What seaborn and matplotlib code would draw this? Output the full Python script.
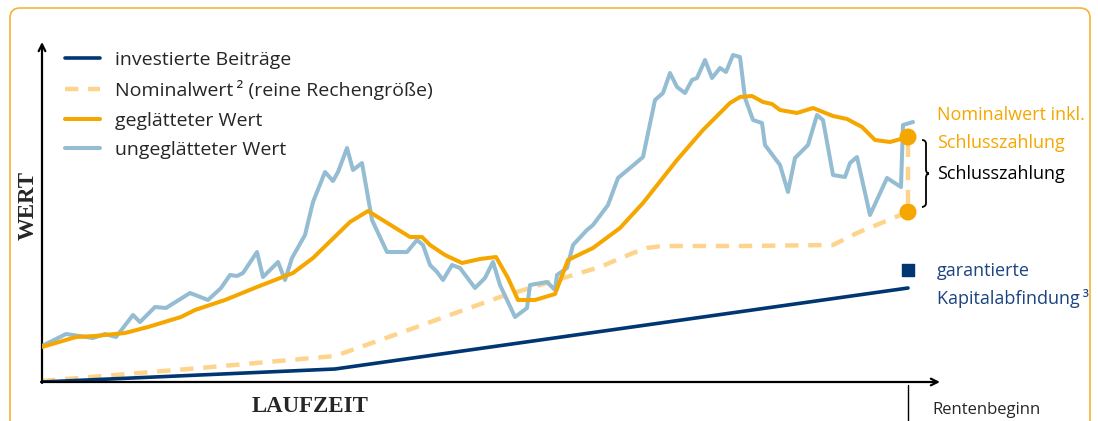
import numpy as np
import pandas as pd
import matplotlib
matplotlib.use("Agg")
import matplotlib.pyplot as plt
import seaborn as sns
from matplotlib.patches import FancyBboxPatch, PathPatch
from matplotlib.path import Path
from matplotlib.transforms import IdentityTransform

# -------------------------------------------------------------
#  Daten
#  x = Laufzeit (0 .. Rentenbeginn), y = Wert (willkuerliche Einheit)
# -------------------------------------------------------------

beitraege_x = [0, 293, 866]
beitraege_y = [0, 13, 94]

nominal_x = [0, 158, 293, 358, 458, 558, 591, 605, 620, 700, 791, 815, 866, 866]
nominal_y = [1, 14, 26, 49, 85, 115, 129, 134, 136, 136, 137, 149, 170, 245]

geglaettet_x = [0, 34, 53, 83, 106, 139, 153, 183, 215, 251, 271, 308, 326, 368,
                380, 388, 403, 420, 438, 454, 466, 476, 493, 513, 526, 551, 578,
                601, 635, 661, 688, 698, 710, 721, 730, 738, 755, 771, 791, 805,
                820, 833, 848, 866]
geglaettet_y = [35, 45, 46, 49, 55, 65, 72, 82, 95, 109, 124, 160, 171, 145,
                145, 137, 127, 119, 123, 125, 104, 82, 82, 88, 122, 134, 154,
                179, 222, 252, 279, 285, 286, 280, 278, 272, 269, 274, 266, 263,
                255, 242, 240, 245]

roh_x = [0, 24, 51, 63, 74, 91, 98, 113, 124, 148, 166, 179, 188, 195, 201, 215,
         221, 236, 243, 250, 263, 271, 283, 291, 296, 305, 311, 320, 330, 345,
         365, 375, 381, 388, 395, 401, 410, 418, 433, 443, 451, 458, 473, 485,
         488, 505, 513, 515, 525, 531, 545, 551, 566, 576, 588, 601, 613, 621,
         628, 635, 643, 650, 655, 663, 670, 678, 684, 691, 698, 703, 711, 720,
         723, 738, 746, 753, 766, 775, 781, 791, 803, 808, 815, 828, 845, 859,
         861, 871]
roh_y = [36, 48, 44, 48, 45, 67, 60, 75, 74, 89, 82, 94, 107, 106, 109, 130,
         105, 120, 102, 124, 147, 180, 210, 201, 210, 234, 212, 219, 162, 130,
         130, 142, 137, 117, 110, 102, 117, 114, 94, 104, 120, 97, 65, 74,
         97, 100, 92, 107, 114, 137, 152, 157, 177, 204, 214, 225, 282, 289,
         309, 295, 289, 302, 304, 322, 304, 314, 310, 327, 325, 284, 262, 259,
         237, 217, 190, 224, 237, 267, 262, 207, 205, 219, 225, 167, 204, 195,
         257, 260]

garantie_y = 112

LABELS = [
    "investierte Beiträge",
    "Nominalwert\u2009² (reine Rechengröße)",
    "geglätteter Wert",
    "ungeglätteter Wert",
]

NAVY       = "#003671"
HELLBLAU   = "#94bdd3"
ORANGE     = "#f5a700"
HELLORANGE = "#fed48c"
TEXTBLAU   = "#1c4480"

# -------------------------------------------------------------
#  Figur
# -------------------------------------------------------------

sns.set_style("white")
plt.rcParams["font.family"] = ["Open Sans", "DejaVu Sans"]

fig = plt.figure(figsize=(10.98, 4.21), dpi=100)
ax = fig.add_axes([42 / 1098, 39 / 421, 898 / 1098, 340 / 421])
ax.set_xlim(0, 898)
ax.set_ylim(0, 340)
ax.axis("off")

# orangener Rahmen (unten offen)
rahmen = FancyBboxPatch(
    (10, -30), 1080, 443,
    boxstyle="round,pad=0,rounding_size=10",
    transform=IdentityTransform(),
    facecolor="none", edgecolor="#f7b337", linewidth=1.2,
)
fig.add_artist(rahmen)

df_nom = pd.DataFrame({"x": nominal_x, "y": nominal_y})
df_bei = pd.DataFrame({"x": beitraege_x, "y": beitraege_y})
df_roh = pd.DataFrame({"x": roh_x, "y": roh_y})
df_gl  = pd.DataFrame({"x": geglaettet_x, "y": geglaettet_y})

sns.lineplot(data=df_nom, x="x", y="y", ax=ax, color=HELLORANGE, linewidth=3.2,
             linestyle=(0, (3.0, 2.2)), estimator=None, sort=False,
             label=LABELS[1], zorder=2)
sns.lineplot(data=df_bei, x="x", y="y", ax=ax, color=NAVY, linewidth=2.6,
             estimator=None, sort=False, label=LABELS[0], zorder=3)
sns.lineplot(data=df_roh, x="x", y="y", ax=ax, color=HELLBLAU, linewidth=2.9,
             estimator=None, sort=False, label=LABELS[3], zorder=4)
sns.lineplot(data=df_gl, x="x", y="y", ax=ax, color=ORANGE, linewidth=2.9,
             estimator=None, sort=False, label=LABELS[2], zorder=5)

# Endpunkte
x_end = geglaettet_x[-1]
sns.scatterplot(x=[x_end, x_end], y=[geglaettet_y[-1], nominal_y[-2]], ax=ax,
                color=ORANGE, s=150, edgecolor="none", zorder=6, legend=False)

# Legende
handles, labels = ax.get_legend_handles_labels()
order = [labels.index(l) for l in LABELS]
ax.legend(
    [handles[i] for i in order], [labels[i] for i in order],
    loc="upper left", bbox_to_anchor=(23, 331), bbox_transform=ax.transData,
    frameon=False, fontsize=14, handlelength=1.8, handletextpad=0.75,
    labelspacing=0.58, borderpad=0, borderaxespad=0,
)

# Achsenpfeile
pfeil = dict(arrowstyle="->", lw=1.6, color="black", mutation_scale=12,
             shrinkA=0, shrinkB=0)
ax.annotate("", xy=(898, 0), xytext=(-1, 0), arrowprops=pfeil, annotation_clip=False)
ax.annotate("", xy=(0, 340), xytext=(0, -1), arrowprops=pfeil, annotation_clip=False)

ax.text(268, -25, "LAUFZEIT", ha="center", va="center", fontsize=16.5,
        fontweight="bold", family="Liberation Serif")
ax.text(-14, 177, "WERT", ha="center", va="center", rotation=90, fontsize=16.5,
        fontweight="bold", family="Liberation Serif")

# Rentenbeginn
ax.plot([x_end, x_end], [-3, -45], color="black", lw=1.0, clip_on=False)
ax.text(x_end + 24, -28, "Rentenbeginn", ha="left", va="center", fontsize=12)

# Beschriftung rechts
ax.text(x_end + 29, 267, "Nominalwert inkl.", color=ORANGE, fontsize=13,
        ha="left", va="center")
ax.text(x_end + 29, 239, "Schlusszahlung", color=ORANGE, fontsize=13,
        ha="left", va="center")
ax.text(x_end + 29, 208, "Schlusszahlung", color="black", fontsize=13,
        ha="left", va="center")

# geschweifte Klammer
oben  = geglaettet_y[-1] - 3
unten = nominal_y[-2] + 5
mitte = (oben + unten) / 2
bx = x_end + 14
verts = [
    (bx, oben), (bx + 4, oben), (bx + 4, oben - 4),
    (bx + 4, mitte + 4),
    (bx + 4, mitte), (bx + 7, mitte), (bx + 7, mitte),
    (bx + 4, mitte), (bx + 4, mitte - 4), (bx + 4, mitte - 4),
    (bx + 4, unten + 4),
    (bx + 4, unten), (bx, unten), (bx, unten),
]
codes = [Path.MOVETO, Path.CURVE3, Path.CURVE3, Path.LINETO,
         Path.CURVE4, Path.CURVE4, Path.CURVE4,
         Path.CURVE4, Path.CURVE4, Path.CURVE4,
         Path.LINETO, Path.CURVE4, Path.CURVE4, Path.CURVE4]
ax.add_patch(PathPatch(Path(verts, codes), facecolor="none", edgecolor="black",
                       lw=1.3, clip_on=False))

# garantierte Kapitalabfindung
ax.scatter([x_end], [garantie_y], marker="s", s=70, color=NAVY, zorder=6,
           clip_on=False)
ax.text(x_end + 29, 111, "garantierte", color=TEXTBLAU, fontsize=13,
        ha="left", va="center")
ax.text(x_end + 29, 83, "Kapitalabfindung\u2009³", color=TEXTBLAU, fontsize=13,
        ha="left", va="center")

fig.savefig("out.png", dpi=100)
plt.close(fig)
